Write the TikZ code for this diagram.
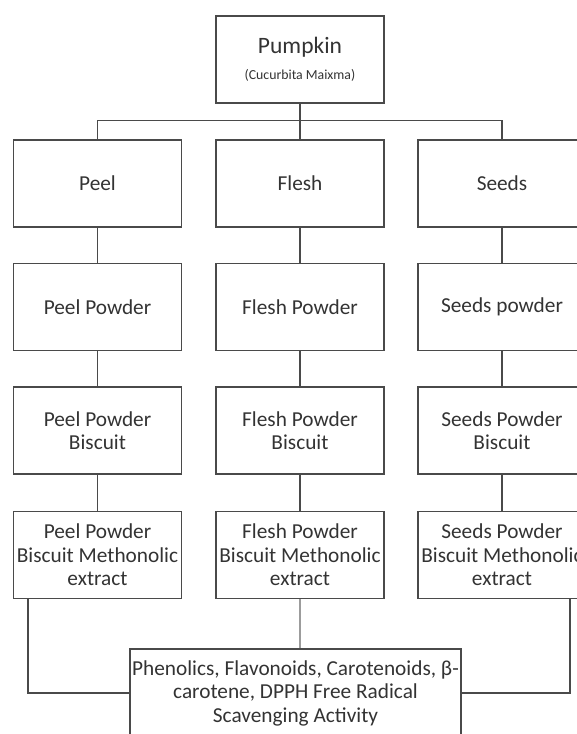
\documentclass[tikz,border=0pt]{standalone}
\usepackage{fontspec}
\setmainfont{Carlito}
\usetikzlibrary{calc}
\definecolor{ink}{HTML}{333333}
\definecolor{edge}{HTML}{4A4A4A}
\definecolor{pale}{HTML}{9C9C9C}
\tikzset{box/.style={draw=edge, line width=1.4pt, minimum width=168pt, minimum height=87pt, inner sep=0pt, align=center, text=ink, font=\fontsize{21.3}{23.5}\selectfont},
         link/.style={draw=edge, line width=1.2pt}}
\begin{document}
\begin{tikzpicture}[x=1pt, y=1pt]
                        \useasboundingbox (0,0) rectangle (577,-734);
                        \node[box] (pump) at (300,-59.5) {{\fontsize{23.5}{26}\selectfont Pumpkin}\\[3pt]{\fontsize{13.8}{16}\selectfont (Cucurbita Maixma)}};
                        \node[box] (peel) at (97.5,-183.5) {Peel};
                        \node[box] (flesh) at (300,-183.5) {Flesh};
                        \node[box] (seeds) at (502,-183.5) {Seeds};
                        \node[box] (peelp) at (97.5,-307) {Peel Powder};
                        \node[box] (fleshp) at (300,-307) {Flesh Powder};
                        \node[box] (seedsp) at (502,-307) {Seeds powder};
                        \node[box] (peelb) at (97.5,-430.5) {Peel Powder\\Biscuit};
                        \node[box] (fleshb) at (300,-430.5) {Flesh Powder\\Biscuit};
                        \node[box] (seedsb) at (502,-430.5) {Seeds Powder\\Biscuit};
                        \node[box] (peelx) at (97.5,-555) {Peel Powder\\Biscuit Methonolic\\extract};
                        \node[box] (fleshx) at (300,-555) {Flesh Powder\\Biscuit Methonolic\\extract};
                        \node[box] (seedsx) at (502,-555) {Seeds Powder\\Biscuit Methonolic\\extract};
                        \node[box, minimum width=331pt, minimum height=88pt] (res) at (295.5,-693) {Phenolics, Flavonoids, Carotenoids, β-\\carotene, DPPH Free Radical\\Scavenging Activity};
                        \draw[link] (pump.south) -- (flesh.north) (peel.north) -- ++(0,19) -| (seeds.north);
                        \draw[link] (peel) -- (peelp) -- (peelb) -- (peelx) (flesh) -- (fleshp) -- (fleshb) -- (fleshx) (seeds) -- (seedsp) -- (seedsb) -- (seedsx);
                        \draw[link] ([xshift=-69.5pt]peelx.south) |- (res.west) ([xshift=68pt]seedsx.south) |- (res.east);
                        \draw[link, draw=pale] (fleshx.south) -- (fleshx.south |- res.north);
                    \end{tikzpicture}
\end{document}
